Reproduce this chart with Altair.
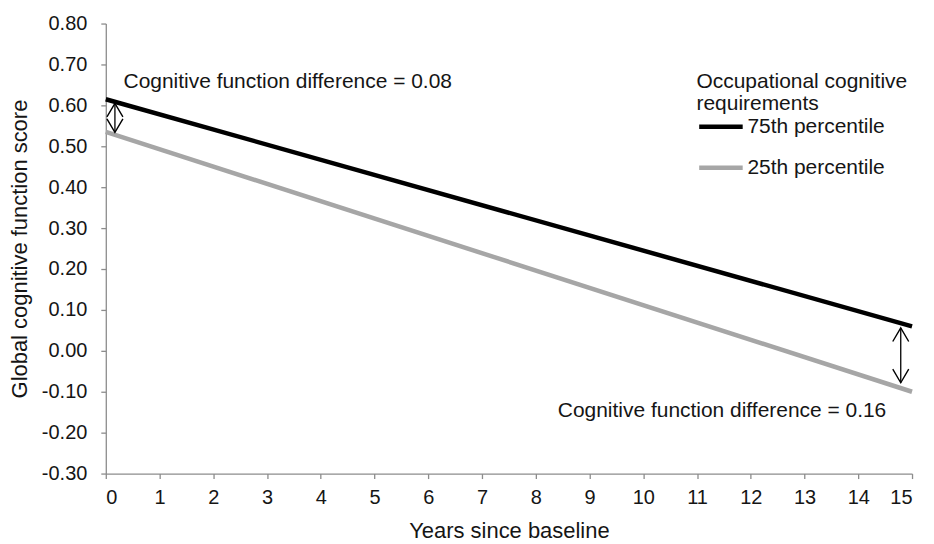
import altair as alt
import pandas as pd

years = [0, 15]
series_names = ["75th percentile", "25th percentile"]
p75_values = [0.615, 0.06]
p25_values = [0.535, -0.10]
line_colors = ["#000000", "#a6a6a6"]

arrow_x = [0.17, 14.79]
arrow_top = [0.605, 0.056]
arrow_bottom = [0.534, -0.078]
arrow_head_size = [256, 256]

notes = ["Cognitive function difference = 0.08", "Cognitive function difference = 0.16"]
note_x = [0.33, 8.41]
note_y = [0.656, -0.146]

x_ticks = list(range(0, 16))
y_ticks = [round(-0.3 + 0.1 * i, 2) for i in range(12)]

rows = []
for name, vals in zip(series_names, [p75_values, p25_values]):
    for x, v in zip(years, vals):
        rows.append({"year": x, "score": v, "group": name})
lines_df = pd.DataFrame(rows)

arrow_df = pd.DataFrame({"x": arrow_x, "y1": arrow_top, "y2": arrow_bottom})
heads_up = pd.DataFrame({"x": arrow_x, "y": arrow_top, "s": arrow_head_size})
heads_dn = pd.DataFrame({"x": arrow_x, "y": arrow_bottom, "s": arrow_head_size})
notes_df = pd.DataFrame({"x": note_x, "y": note_y, "t": notes})

xs = alt.Scale(domain=[0, 15], nice=False, zero=False)
ys = alt.Scale(domain=[-0.3, 0.8], nice=False, zero=False)

gray = "#8c8c8c"
txt = "#151515"
x_axis = alt.Axis(values=x_ticks, format="d", grid=False, domainColor=gray, tickColor=gray,
                  domainWidth=1.3, tickWidth=1.3,
                  tickSize=5, labelFontSize=20, labelColor=txt, titleFontSize=22,
                  titleFontWeight="normal", titleColor=txt, labelPadding=9, titlePadding=13)
y_axis = alt.Axis(values=y_ticks, grid=False, domainColor=gray, tickColor=gray,
                  domainWidth=1.3, tickWidth=1.3,
                  labelExpr="replace(format(datum.value, '.2f'), '\u2212', '-')",
                  tickSize=5, labelFontSize=20, labelColor=txt, titleFontSize=22,
                  titleFontWeight="normal", titleColor=txt, labelPadding=14, titlePadding=10)

lines = alt.Chart(lines_df).mark_line(strokeWidth=4.5, strokeCap="butt").encode(
    x=alt.X("year:Q", scale=xs, axis=x_axis, title="Years since baseline"),
    y=alt.Y("score:Q", scale=ys, axis=y_axis, title="Global cognitive function score"),
    color=alt.Color("group:N", sort=series_names,
                    scale=alt.Scale(domain=series_names, range=line_colors),
                    legend=alt.Legend(title=["Occupational cognitive", "requirements"],
                                      orient="none", legendX=592, legendY=48,
                                      symbolType="stroke", symbolSize=1900, symbolStrokeWidth=4.5,
                                      labelFontSize=21, titleFontSize=21, titleFontWeight="normal",
                                      titleColor=txt, labelColor=txt, titleLineHeight=22,
                                      titleLimit=400, labelLimit=400,
                                      rowPadding=6, labelOffset=2, titlePadding=-12)),
)

shafts = alt.Chart(arrow_df).mark_rule(color="#000", strokeWidth=1.3).encode(
    x=alt.X("x:Q", scale=xs), y=alt.Y("y1:Q", scale=ys), y2="y2:Q")

up_shape = "M-1,1.7L0,0L1,1.7"
dn_shape = "M-1,-1.7L0,0L1,-1.7"
head_up = alt.Chart(heads_up).mark_point(shape=up_shape, filled=False, color="#000",
                                         strokeWidth=1.4, opacity=1).encode(
    x=alt.X("x:Q", scale=xs), y=alt.Y("y:Q", scale=ys), size=alt.Size("s:Q", scale=None))
head_dn = alt.Chart(heads_dn).mark_point(shape=dn_shape, filled=False, color="#000",
                                         strokeWidth=1.4, opacity=1).encode(
    x=alt.X("x:Q", scale=xs), y=alt.Y("y:Q", scale=ys), size=alt.Size("s:Q", scale=None))

texts = alt.Chart(notes_df).mark_text(align="left", fontSize=21, color=txt).encode(
    x=alt.X("x:Q", scale=xs), y=alt.Y("y:Q", scale=ys), text="t:N")

chart = alt.layer(lines, shafts, head_up, head_dn, texts).properties(
    width=808, height=451, padding={"left": 0, "top": 5, "right": 5, "bottom": 0}
).configure(font="Liberation Sans").configure_view(stroke=None)

chart.save("out.html", embed_options={"renderer": "svg", "actions": False})
